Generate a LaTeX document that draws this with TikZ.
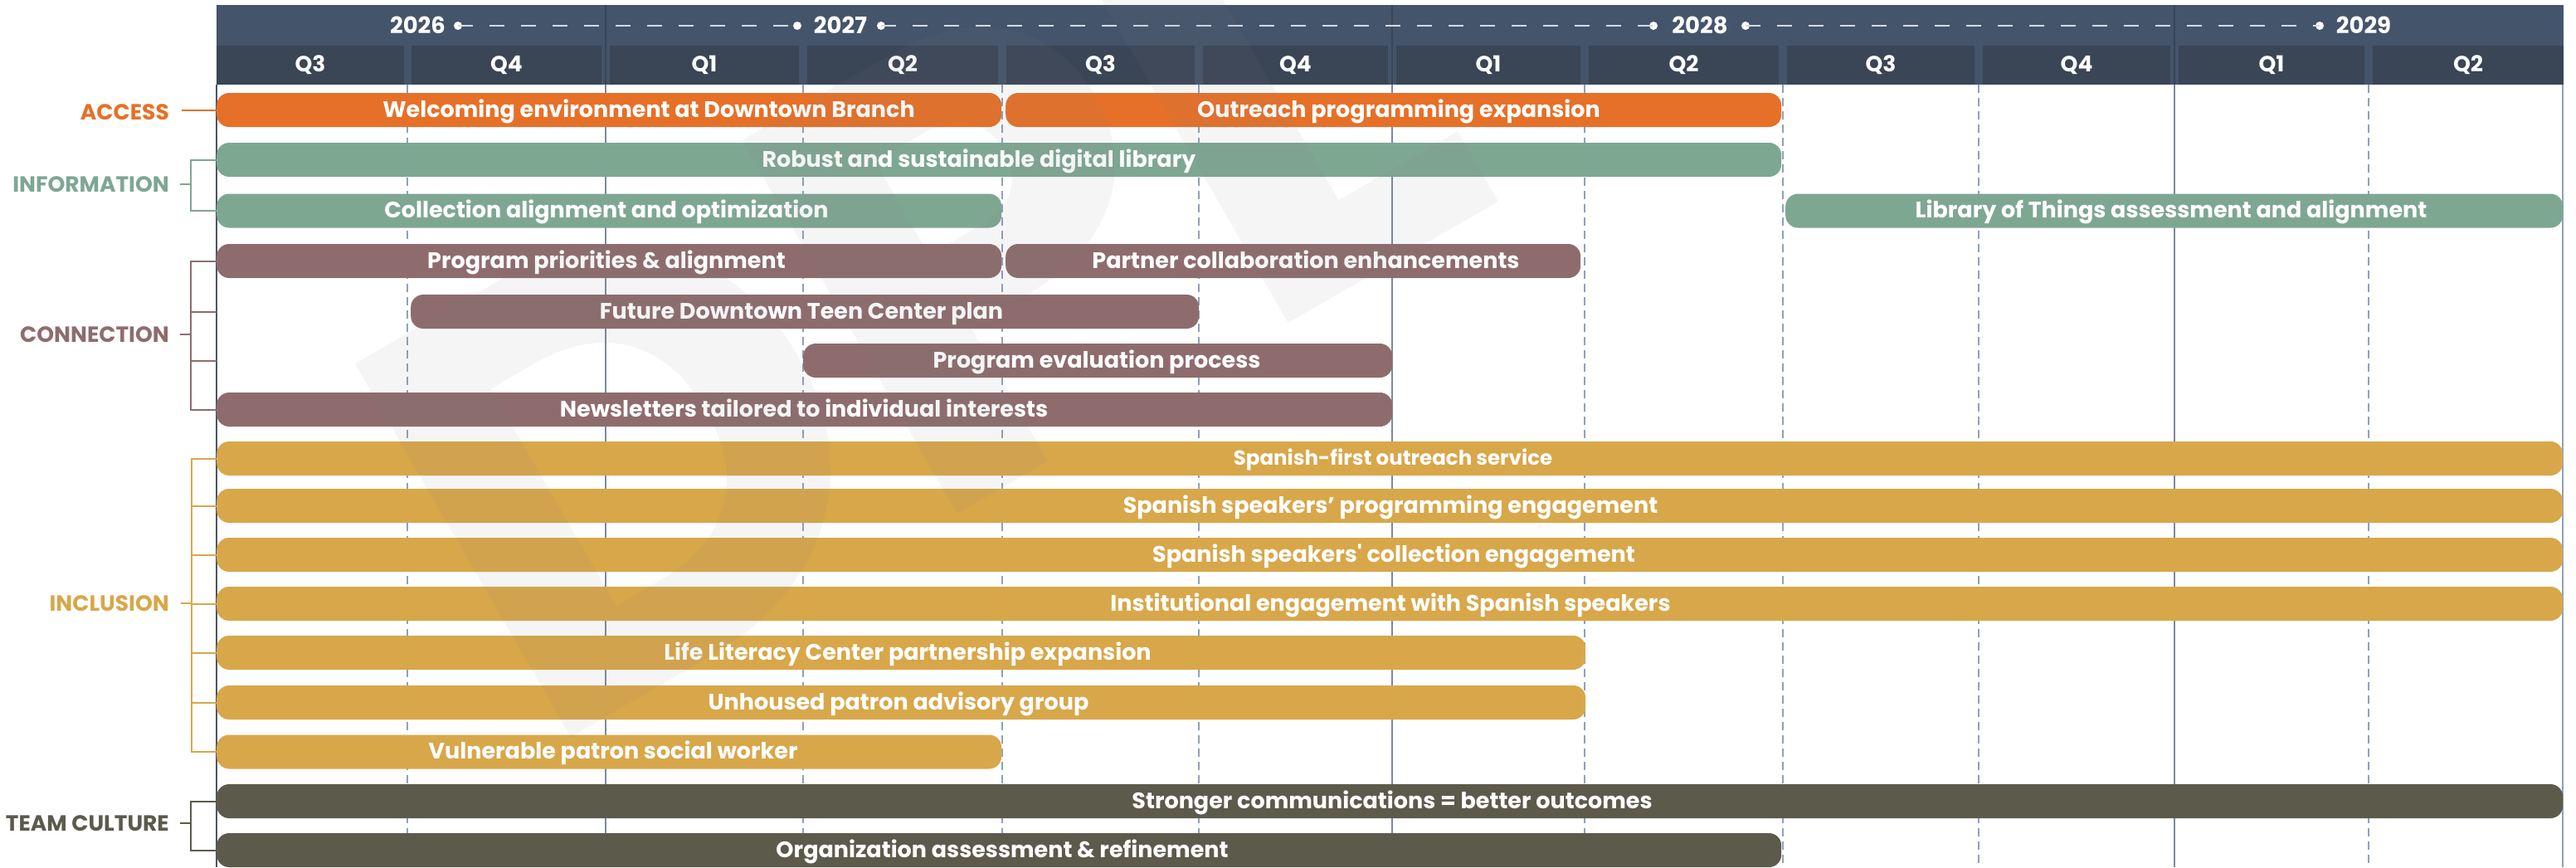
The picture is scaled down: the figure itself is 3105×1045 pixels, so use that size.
\documentclass[tikz,border=0pt]{standalone}
\usepackage{fontspec}
\setmainfont{Poppins}[Ligatures=TeXOff]
\definecolor{cAcc}{HTML}{E67028}
\definecolor{cInf}{HTML}{7EA792}
\definecolor{cCon}{HTML}{8E6C6D}
\definecolor{cInc}{HTML}{D8A74A}
\definecolor{cTeam}{HTML}{5C5A4B}
\definecolor{cYear}{HTML}{44546B}
\definecolor{cQ}{HTML}{3A4556}
\definecolor{cDash}{HTML}{8EA1BC}
\definecolor{cSolid}{HTML}{7D8A9E}
\definecolor{cEdge}{HTML}{4B5566}
\definecolor{cYearLine}{HTML}{D5DAE2}
\begin{document}
\begin{tikzpicture}[x=1pt,y=-1pt,
  taskbar/.style={rectangle, rounded corners=15pt, minimum height=41pt, inner sep=0pt, anchor=west},
  bartext/.style={text=white, font=\bfseries\fontsize{27}{27}\selectfont, inner sep=0pt, anchor=base},
  smalltext/.style={text=white, font=\bfseries\fontsize{24.5}{24.5}\selectfont, inner sep=0pt, anchor=base},
  grouplabel/.style={font=\bfseries\fontsize{26.5}{26.5}\selectfont, inner sep=0pt, anchor=east},
  qcell/.style={fill=cQ, text=white, minimum height=47pt, inner sep=0pt, font=\bfseries\fontsize{26.5}{26.5}\selectfont},
  yearlabel/.style={text=white, inner sep=0pt, font=\bfseries\fontsize{27.5}{27.5}\selectfont},
  yeardot/.style={circle, fill=white, minimum size=10pt, inner sep=0pt},
  yeardash/.style={cYearLine, line width=2pt, dash pattern=on 18pt off 20pt},
  griddash/.style={cDash, line width=1.5pt, dash pattern=on 10pt off 6pt},
  gridsolid/.style={cSolid, line width=1.5pt},
  brk/.style={line width=2pt}
]
\useasboundingbox (0,0) rectangle (3105,1045);
\fill[white] (0,0) rectangle (3105,1045);

% ---------- grid ----------
\foreach \x in {491,968,1208,1445,1910,2149,2385,2855}
  \draw[griddash] (\x,102) -- (\x,1045);
\foreach \x in {730,1678,2621}
  \draw[gridsolid] (\x,102) -- (\x,1045);
\draw[cEdge, line width=1.5pt] (261,102) -- (261,1045);
\draw[cDash, line width=1.5pt] (3089,97) -- (3089,1045);

% ---------- header ----------
\fill[cYear] (261,6) rectangle (3090,102);
\foreach \l/\r/\q [count=\i] in {261/487/Q3, 496/725/Q4, 735/963/Q1, 973/1203/Q2,
  1213/1440/Q3, 1450/1673/Q4, 1683/1905/Q1, 1915/2144/Q2,
  2154/2380/Q3, 2390/2616/Q4, 2626/2850/Q1, 2860/3090/Q2}
  \node[qcell, minimum width={\r-\l}] (q\i) at ({(\l+\r)/2},78.5) {\q};
\foreach \x in {730,1678,2621}
  \draw[cQ, line width=2pt] (\x,6) -- (\x,102);

\node[yearlabel] (y2026) at (503.5,30) {2026};
\node[yearlabel] (y2027) at (1013,30) {2027};
\node[yearlabel] (y2028) at (2049,30) {2028};
\node[yearlabel] (y2029) at (2849,30) {2029};
\node[yeardot] (d1) at (552,31) {};
\node[yeardot] (d2) at (961,31) {};
\node[yeardot] (d3) at (1062,31) {};
\node[yeardot] (d4) at (1993,31) {};
\node[yeardot] (d5) at (2104,31) {};
\node[yeardot] (d6) at (2796,31) {};
\draw[yeardash] (d1.center) -- (d2.center);
\draw[yeardash] (d3.center) -- (d4.center);
\draw[yeardash] (d5.center) -- (d6.center);

% ---------- bars ----------
\node[taskbar, fill=cAcc, minimum width=946pt] (b1a) at (261,132.5) {};
\node[taskbar, fill=cAcc, minimum width=935pt] (b1b) at (1212,132.5) {};
\node[taskbar, fill=cInf, minimum width=1886pt] (b2) at (261,192.5) {};
\node[taskbar, fill=cInf, minimum width=946pt] (b3a) at (261,254) {};
\node[taskbar, fill=cInf, minimum width=937pt] (b3b) at (2152,254) {};
\node[taskbar, fill=cCon, minimum width=946pt] (b4a) at (261,314.5) {};
\node[taskbar, fill=cCon, minimum width=693pt] (b4b) at (1212,314.5) {};
\node[taskbar, fill=cCon, minimum width=950pt] (b5) at (495,375.5) {};
\node[taskbar, fill=cCon, minimum width=710pt] (b6) at (968,434.5) {};
\node[taskbar, fill=cCon, minimum width=1417pt] (b7) at (261,493.5) {};
\node[taskbar, fill=cInc, minimum width=2828pt] (b8) at (261,552.5) {};
\node[taskbar, fill=cInc, minimum width=2828pt] (b9) at (261,609.5) {};
\node[taskbar, fill=cInc, minimum width=2828pt] (b10) at (261,668.5) {};
\node[taskbar, fill=cInc, minimum width=2828pt] (b11) at (261,727.5) {};
\node[taskbar, fill=cInc, minimum width=1650pt] (b12) at (261,786.5) {};
\node[taskbar, fill=cInc, minimum width=1650pt] (b13) at (261,846.5) {};
\node[taskbar, fill=cInc, minimum width=946pt] (b14) at (261,906) {};
\node[taskbar, fill=cTeam, minimum width=2828pt] (b15) at (261,965.5) {};
\node[taskbar, fill=cTeam, minimum width=1886pt] (b16) at (261,1024.5) {};

% ---------- bar texts ----------
\node[bartext] (t1a) at (782,141) {Welcoming environment at Downtown Branch};
\node[bartext] (t1b) at (1686,141) {Outreach programming expansion};
\node[bartext] (t2) at (1180,201) {Robust and sustainable digital library};
\node[bartext] (t3a) at (731,262.5) {Collection alignment and optimization};
\node[bartext] (t3b) at (2617,262.5) {Library of Things assessment and alignment};
\node[bartext] (t4a) at (731,323) {Program priorities \& alignment};
\node[bartext] (t4b) at (1574,323) {Partner collaboration enhancements};
\node[bartext] (t5) at (966,384) {Future Downtown Teen Center plan};
\node[bartext] (t6) at (1322,443) {Program evaluation process};
\node[bartext] (t7) at (969,502) {Newsletters tailored to individual interests};
\node[smalltext] (t8) at (1679,560.5) {Spanish-first outreach service};
\node[bartext] (t9) at (1676,618) {Spanish speakers’ programming engagement};
\node[bartext] (t10) at (1680,677) {Spanish speakers' collection engagement};
\node[bartext] (t11) at (1676,736) {Institutional engagement with Spanish speakers};
\node[bartext] (t12) at (1094,795) {Life Literacy Center partnership expansion};
\node[bartext] (t13) at (1083,855) {Unhoused patron advisory group};
\node[bartext] (t14) at (739,914.5) {Vulnerable patron social worker};
\node[bartext] (t15) at (1678,974) {Stronger communications = better outcomes};
\node[bartext] (t16) at (1208,1033) {Organization assessment \& refinement};

% ---------- group labels ----------
\node[grouplabel, text=cAcc] (lAcc) at (204,134.7) {ACCESS};
\node[grouplabel, text=cInf] (lInf) at (204,222) {INFORMATION};
\node[grouplabel, text=cCon] (lCon) at (204,403) {CONNECTION};
\node[grouplabel, text=cInc] (lInc) at (204,727) {INCLUSION};
\node[grouplabel, text=cTeam] (lTeam) at (204,992) {TEAM CULTURE};

\coordinate (kAcc) at (219,132.5);
\coordinate (kInf) at (230,222);
\coordinate (kCon) at (230,403);
\coordinate (kInc) at (231,727);
\coordinate (kTeam) at (230,992);
\coordinate (e5) at (261,375.5);
\coordinate (e6) at (261,434.5);

\draw[cAcc, brk] (kAcc) -- (b1a.west);

\draw[cInf, brk] ([xshift=13pt]lInf.east) -- (kInf);
\draw[cInf, brk] (b2.west) -| (kInf) |- (b3a.west);

\draw[cCon, brk] ([xshift=13pt]lCon.east) -- (kCon);
\draw[cCon, brk] (b4a.west) -| (kCon) |- (b7.west);
\draw[cCon, brk] (e5) -- (e5 -| kCon);
\draw[cCon, brk] (e6) -- (e6 -| kCon);

\draw[cInc, brk] ([xshift=14pt]lInc.east) -- (kInc);
\draw[cInc, brk] (b8.west) -| (kInc) |- (b14.west);
\foreach \b in {b9,b10,b11,b12,b13}
  \draw[cInc, brk] (\b.west) -- (\b.west -| kInc);

\draw[cTeam, brk] ([xshift=13pt]lTeam.east) -- (kTeam);
\draw[cTeam, brk] (b15.west) -| (kTeam) |- (b16.west);

% ---------- watermark ----------
\begin{scope}
\clip (261,0) rectangle (3105,1045);
\node[anchor=base west, rotate=30, inner sep=0pt, text=gray, opacity=0.08,
  font=\bfseries\fontsize{740}{740}\selectfont] (wm) at (648,912) {DPL};
\end{scope}
\end{tikzpicture}
\end{document}
